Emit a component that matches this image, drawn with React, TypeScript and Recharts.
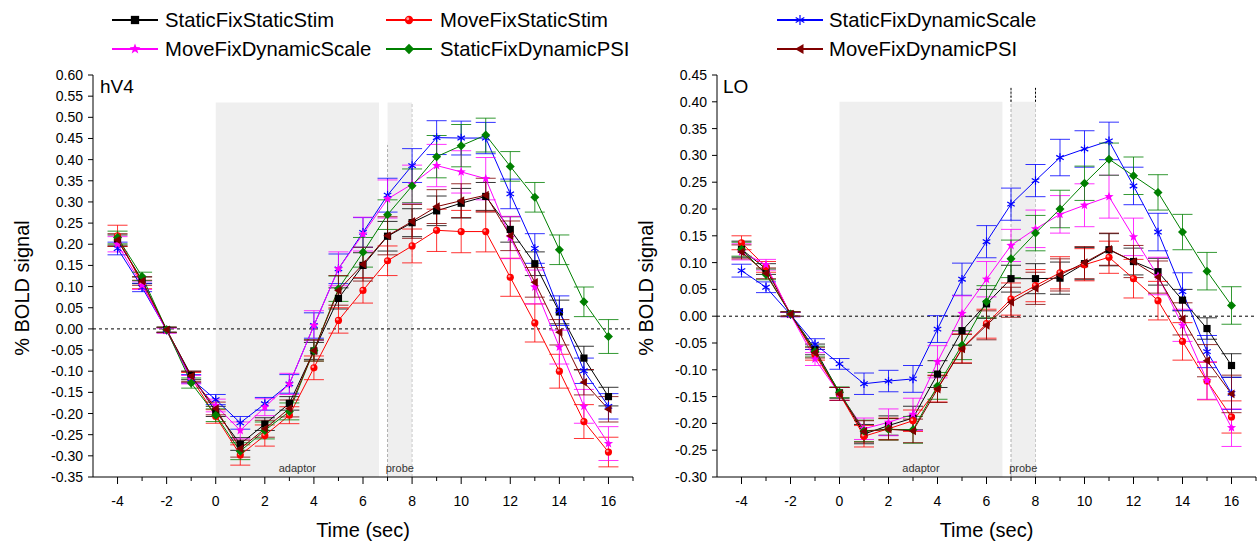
import {
  ErrorBar,
  Line,
  LineChart,
  ReferenceArea,
  ReferenceLine,
  XAxis,
  YAxis,
} from "recharts";

const FONT = '"Liberation Sans", Arial, sans-serif';

const times = [-4, -3, -2, -1, 0, 1, 2, 3, 4, 5, 6, 7, 8, 9, 10, 11, 12, 13, 14, 15, 16];
const xTicks = [-4, -3, -2, -1, 0, 1, 2, 3, 4, 5, 6, 7, 8, 9, 10, 11, 12, 13, 14, 15, 16, 17];
const hv4Ticks = [0.6, 0.55, 0.5, 0.45, 0.4, 0.35, 0.3, 0.25, 0.2, 0.15, 0.1, 0.05, 0, -0.05, -0.1, -0.15, -0.2, -0.25, -0.3, -0.35];
const loTicks = [0.45, 0.4, 0.35, 0.3, 0.25, 0.2, 0.15, 0.1, 0.05, 0, -0.05, -0.1, -0.15, -0.2, -0.25, -0.3];

const seriesNames = [
  "StaticFixStaticStim",
  "MoveFixStaticStim",
  "StaticFixDynamicScale",
  "MoveFixDynamicScale",
  "StaticFixDynamicPSI",
  "MoveFixDynamicPSI",
];
const seriesColors = ["#000000", "#ff0000", "#0000ff", "#ff00ff", "#008000", "#800000"];
const seriesMarkers = ["square", "circle", "asterisk", "star", "diamond", "lefttri"];

// hV4 means
const hv4StaticFixStaticStim = [0.21, 0.115, -0.002, -0.11, -0.195, -0.272, -0.225, -0.176, -0.052, 0.072, 0.15, 0.219, 0.251, 0.279, 0.297, 0.313, 0.235, 0.154, 0.04, -0.069, -0.16];
const hv4MoveFixStaticStim = [0.22, 0.105, -0.003, -0.115, -0.207, -0.298, -0.252, -0.204, -0.092, 0.02, 0.091, 0.161, 0.196, 0.233, 0.23, 0.23, 0.122, 0.014, -0.1, -0.219, -0.291];
const hv4StaticFixDynamicScale = [0.19, 0.098, -0.003, -0.118, -0.167, -0.222, -0.177, -0.13, 0.008, 0.142, 0.228, 0.316, 0.386, 0.452, 0.451, 0.451, 0.319, 0.19, 0.043, -0.099, -0.183];
const hv4MoveFixDynamicScale = [0.2, 0.103, -0.004, -0.12, -0.181, -0.24, -0.185, -0.13, 0.008, 0.142, 0.224, 0.307, 0.342, 0.386, 0.371, 0.355, 0.216, 0.099, -0.043, -0.183, -0.271];
const hv4StaticFixDynamicPSI = [0.216, 0.124, -0.002, -0.128, -0.204, -0.289, -0.24, -0.195, -0.051, 0.095, 0.181, 0.27, 0.338, 0.407, 0.433, 0.458, 0.384, 0.311, 0.187, 0.064, -0.018];
const hv4MoveFixDynamicPSI = [0.21, 0.113, -0.002, -0.112, -0.188, -0.283, -0.236, -0.188, -0.051, 0.091, 0.153, 0.22, 0.254, 0.289, 0.303, 0.316, 0.22, 0.11, -0.008, -0.126, -0.19];

// hV4 error half-widths
const hv4ErrStaticFixStaticStim = [0.012, 0.008, 0.006, 0.01, 0.012, 0.015, 0.015, 0.016, 0.02, 0.025, 0.03, 0.035, 0.033, 0.035, 0.035, 0.033, 0.03, 0.028, 0.028, 0.028, 0.022];
const hv4ErrMoveFixStaticStim = [0.025, 0.01, 0.006, 0.012, 0.016, 0.024, 0.025, 0.02, 0.028, 0.03, 0.03, 0.035, 0.04, 0.05, 0.05, 0.048, 0.045, 0.045, 0.04, 0.04, 0.035];
const hv4ErrStaticFixDynamicScale = [0.015, 0.01, 0.006, 0.01, 0.012, 0.015, 0.015, 0.022, 0.03, 0.035, 0.035, 0.04, 0.04, 0.04, 0.04, 0.037, 0.035, 0.035, 0.035, 0.03, 0.03];
const hv4ErrMoveFixDynamicScale = [0.018, 0.01, 0.006, 0.01, 0.015, 0.02, 0.02, 0.025, 0.035, 0.04, 0.04, 0.045, 0.045, 0.05, 0.05, 0.05, 0.05, 0.04, 0.04, 0.04, 0.04];
const hv4ErrStaticFixDynamicPSI = [0.015, 0.01, 0.006, 0.012, 0.015, 0.02, 0.02, 0.02, 0.025, 0.03, 0.035, 0.035, 0.04, 0.05, 0.05, 0.04, 0.035, 0.035, 0.035, 0.035, 0.04];
const hv4ErrMoveFixDynamicPSI = [0.015, 0.01, 0.006, 0.012, 0.015, 0.02, 0.02, 0.02, 0.025, 0.035, 0.04, 0.045, 0.04, 0.04, 0.04, 0.04, 0.035, 0.035, 0.03, 0.03, 0.03];

// LO means
const loStaticFixStaticStim = [0.125, 0.088, 0.004, -0.062, -0.143, -0.22, -0.204, -0.19, -0.108, -0.027, 0.023, 0.07, 0.07, 0.071, 0.098, 0.124, 0.102, 0.083, 0.03, -0.023, -0.092];
const loMoveFixStaticStim = [0.137, 0.092, 0.004, -0.072, -0.145, -0.224, -0.21, -0.195, -0.135, -0.06, -0.014, 0.032, 0.057, 0.081, 0.096, 0.11, 0.07, 0.029, -0.047, -0.121, -0.188];
const loStaticFixDynamicScale = [0.085, 0.054, 0.003, -0.052, -0.089, -0.126, -0.121, -0.117, -0.024, 0.069, 0.139, 0.209, 0.253, 0.296, 0.312, 0.327, 0.243, 0.157, 0.046, -0.066, -0.144];
const loMoveFixDynamicScale = [0.12, 0.096, 0.003, -0.08, -0.145, -0.21, -0.198, -0.183, -0.085, 0.005, 0.069, 0.132, 0.163, 0.19, 0.207, 0.223, 0.148, 0.075, -0.017, -0.12, -0.208];
const loStaticFixDynamicPSI = [0.125, 0.078, 0.004, -0.066, -0.142, -0.214, -0.211, -0.212, -0.13, -0.054, 0.027, 0.107, 0.155, 0.2, 0.248, 0.293, 0.262, 0.231, 0.157, 0.084, 0.02];
const loMoveFixDynamicPSI = [0.12, 0.08, 0.004, -0.068, -0.145, -0.215, -0.211, -0.214, -0.136, -0.061, -0.017, 0.026, 0.052, 0.077, 0.1, 0.125, 0.102, 0.073, -0.005, -0.083, -0.145];

// LO error half-widths
const loErrStaticFixStaticStim = [0.015, 0.01, 0.004, 0.01, 0.01, 0.018, 0.018, 0.022, 0.025, 0.027, 0.027, 0.025, 0.028, 0.03, 0.03, 0.03, 0.025, 0.025, 0.02, 0.02, 0.022];
const loErrMoveFixStaticStim = [0.013, 0.01, 0.004, 0.01, 0.012, 0.02, 0.02, 0.02, 0.025, 0.027, 0.027, 0.03, 0.03, 0.03, 0.03, 0.03, 0.036, 0.036, 0.035, 0.035, 0.03];
const loErrStaticFixDynamicScale = [0.012, 0.01, 0.004, 0.01, 0.01, 0.02, 0.02, 0.025, 0.025, 0.03, 0.03, 0.03, 0.03, 0.034, 0.034, 0.035, 0.035, 0.035, 0.035, 0.03, 0.03];
const loErrMoveFixDynamicScale = [0.015, 0.01, 0.004, 0.012, 0.012, 0.02, 0.025, 0.03, 0.03, 0.033, 0.033, 0.03, 0.035, 0.035, 0.04, 0.04, 0.035, 0.035, 0.03, 0.035, 0.035];
const loErrStaticFixDynamicPSI = [0.013, 0.01, 0.004, 0.01, 0.01, 0.02, 0.02, 0.025, 0.025, 0.027, 0.03, 0.035, 0.033, 0.035, 0.032, 0.03, 0.035, 0.033, 0.033, 0.035, 0.035];
const loErrMoveFixDynamicPSI = [0.013, 0.01, 0.004, 0.01, 0.012, 0.02, 0.02, 0.022, 0.025, 0.027, 0.027, 0.028, 0.03, 0.03, 0.03, 0.03, 0.03, 0.03, 0.03, 0.03, 0.035];

function buildRows(values: number[][], errors: number[][]) {
  return times.map((t, i) => {
    const row: Record<string, number> = { t };
    values.forEach((v, s) => {
      row[`s${s}`] = v[i];
      row[`e${s}`] = errors[s][i];
    });
    return row;
  });
}

const hv4Rows = buildRows(
  [hv4StaticFixStaticStim, hv4MoveFixStaticStim, hv4StaticFixDynamicScale, hv4MoveFixDynamicScale, hv4StaticFixDynamicPSI, hv4MoveFixDynamicPSI],
  [hv4ErrStaticFixStaticStim, hv4ErrMoveFixStaticStim, hv4ErrStaticFixDynamicScale, hv4ErrMoveFixDynamicScale, hv4ErrStaticFixDynamicPSI, hv4ErrMoveFixDynamicPSI],
);
const loRows = buildRows(
  [loStaticFixStaticStim, loMoveFixStaticStim, loStaticFixDynamicScale, loMoveFixDynamicScale, loStaticFixDynamicPSI, loMoveFixDynamicPSI],
  [loErrStaticFixStaticStim, loErrMoveFixStaticStim, loErrStaticFixDynamicScale, loErrMoveFixDynamicScale, loErrStaticFixDynamicPSI, loErrMoveFixDynamicPSI],
);

function Marker({ kind, cx, cy, color, size = 1 }: { kind: string; cx: number; cy: number; color: string; size?: number }) {
  if (cx == null || cy == null) return null;
  const r = 3.6 * size;
  switch (kind) {
    case "square":
      return <rect x={cx - r} y={cy - r} width={2 * r} height={2 * r} fill={color} />;
    case "circle":
      return (
        <g>
          <circle cx={cx} cy={cy} r={r} fill={color} />
          <circle cx={cx - r * 0.3} cy={cy - r * 0.3} r={r * 0.35} fill="#ff9999" />
        </g>
      );
    case "asterisk": {
      const a = r * 1.2;
      const dx = a * 0.866;
      const dy = a * 0.5;
      return (
        <g stroke={color} strokeWidth={1.2}>
          <line x1={cx} y1={cy - a} x2={cx} y2={cy + a} />
          <line x1={cx - dx} y1={cy - dy} x2={cx + dx} y2={cy + dy} />
          <line x1={cx - dx} y1={cy + dy} x2={cx + dx} y2={cy - dy} />
        </g>
      );
    }
    case "star": {
      const outer = r * 1.35;
      const inner = outer * 0.42;
      const pts: string[] = [];
      for (let k = 0; k < 10; k++) {
        const rad = k % 2 === 0 ? outer : inner;
        const ang = -Math.PI / 2 + (k * Math.PI) / 5;
        pts.push(`${cx + rad * Math.cos(ang)},${cy + rad * Math.sin(ang)}`);
      }
      return <polygon points={pts.join(" ")} fill={color} />;
    }
    case "diamond": {
      const d = r * 1.25;
      return <polygon points={`${cx},${cy - d} ${cx + d},${cy} ${cx},${cy + d} ${cx - d},${cy}`} fill={color} />;
    }
    case "lefttri": {
      const d = r * 1.2;
      return <polygon points={`${cx - d},${cy} ${cx + d * 0.7},${cy - d} ${cx + d * 0.7},${cy + d}`} fill={color} />;
    }
    default:
      return null;
  }
}

function XTick(props: any) {
  const { x, y, payload } = props;
  const v = payload.value as number;
  const major = v % 2 === 0 && v <= 16;
  return (
    <g>
      <line x1={x} x2={x} y1={y} y2={y + (major ? 7 : 4)} stroke="#000" strokeWidth={1} />
      {major && (
        <text x={x} y={y + 29} textAnchor="middle" fontSize={14} fontFamily={FONT} fill="#000">
          {v}
        </text>
      )}
    </g>
  );
}

function YTick(props: any) {
  const { x, y, payload } = props;
  const v = payload.value as number;
  return (
    <g>
      <line x1={x - 5} x2={x} y1={y} y2={y} stroke="#000" strokeWidth={1} />
      <text x={x - 10} y={y + 5} textAnchor="end" fontSize={14} fontFamily={FONT} fill="#000">
        {v.toFixed(2)}
      </text>
    </g>
  );
}

interface PanelProps {
  rows: Record<string, number>[];
  yTicks: number[];
  yDomain: [number, number];
  shadeTop: number;
  probeLineTop: number;
  dottedTop: boolean;
  width: number;
  marginLeft: number;
  marginRight: number;
}

function Panel({ rows, yTicks, yDomain, shadeTop, probeLineTop, dottedTop, width, marginLeft, marginRight }: PanelProps) {
  const labelStyle = { fontSize: 11, fill: "#333", fontFamily: FONT };
  return (
    <LineChart
      width={width}
      height={543}
      data={rows}
      margin={{ top: 75, right: marginRight, bottom: 36, left: marginLeft }}
    >
      <ReferenceArea
        x1={0}
        x2={6.65}
        y1={yDomain[0]}
        y2={shadeTop}
        fill="#efefef"
        fillOpacity={1}
        stroke="none"
        label={{ value: "adaptor", position: "insideBottom", offset: 5, ...labelStyle }}
      />
      <ReferenceArea
        x1={7}
        x2={8}
        y1={yDomain[0]}
        y2={shadeTop}
        fill="#efefef"
        fillOpacity={1}
        stroke="none"
        label={{ value: "probe", position: "insideBottom", offset: 5, ...labelStyle }}
      />
      <ReferenceLine
        segment={[{ x: 7, y: yDomain[0] }, { x: 7, y: probeLineTop }]}
        stroke="#b0b0b0"
        strokeDasharray="3 2"
      />
      <ReferenceLine
        segment={[{ x: 8, y: yDomain[0] }, { x: 8, y: dottedTop ? probeLineTop : shadeTop }]}
        stroke="#c8c8c8"
        strokeDasharray="3 2"
      />
      {dottedTop && (
        <ReferenceLine segment={[{ x: 7, y: shadeTop }, { x: 7, y: probeLineTop }]} stroke="#000" strokeDasharray="2 2" />
      )}
      {dottedTop && (
        <ReferenceLine segment={[{ x: 8, y: shadeTop }, { x: 8, y: probeLineTop }]} stroke="#000" strokeDasharray="2 2" />
      )}
      <ReferenceLine y={0} stroke="#000" strokeDasharray="3 3" strokeWidth={1} />
      <XAxis
        type="number"
        dataKey="t"
        domain={[-5, 17]}
        ticks={xTicks}
        interval={0}
        tickSize={0}
        tickMargin={0}
        tickLine={false}
        tick={XTick}
        axisLine={{ stroke: "#000", strokeWidth: 1 }}
        height={30}
        allowDataOverflow
      />
      <YAxis
        type="number"
        domain={yDomain}
        ticks={yTicks}
        interval={0}
        tickSize={0}
        tickMargin={0}
        tickLine={false}
        tick={YTick}
        axisLine={{ stroke: "#000", strokeWidth: 1 }}
        width={60}
        allowDataOverflow
      />
      {seriesNames.map((name, s) => (
        <Line
          key={name}
          name={name}
          type="linear"
          dataKey={`s${s}`}
          stroke={seriesColors[s]}
          strokeWidth={1}
          isAnimationActive={false}
          activeDot={false}
          dot={(p: any) => (
            <Marker key={`${name}-${p.index}`} kind={seriesMarkers[s]} cx={p.cx} cy={p.cy} color={seriesColors[s]} />
          )}
        >
          <ErrorBar
            dataKey={`e${s}`}
            width={10}
            stroke={seriesColors[s]}
            strokeWidth={1}
            strokeOpacity={0.8}
            direction="y"
            isAnimationActive={false}
          />
        </Line>
      ))}
    </LineChart>
  );
}

const legendCols = [
  { line: 112, text: 165 },
  { line: 386, text: 440 },
  { line: 777, text: 829 },
];
const legendRows = [20, 49];

function LegendBlock() {
  return (
    <>
      {seriesNames.map((name, s) => {
        const col = legendCols[s % 3];
        const rowY = legendRows[Math.floor(s / 3)];
        return (
          <div key={name}>
            <svg
              width={48}
              height={20}
              style={{ position: "absolute", left: col.line, top: rowY - 10 }}
            >
              <line x1={0} x2={46} y1={10} y2={10} stroke={seriesColors[s]} strokeWidth={2} />
              <Marker kind={seriesMarkers[s]} cx={23} cy={10} color={seriesColors[s]} size={1.15} />
            </svg>
            <div
              style={{
                position: "absolute",
                left: col.text,
                top: rowY - 12,
                fontSize: 20.3,
                lineHeight: "24px",
                fontFamily: FONT,
                color: "#000",
                whiteSpace: "nowrap",
              }}
            >
              {name}
            </div>
          </div>
        );
      })}
    </>
  );
}

function AxisTitles({ plotLeft, plotRight, yTitleX, tag, tagX }: { plotLeft: number; plotRight: number; yTitleX: number; tag: string; tagX: number }) {
  const common = { position: "absolute" as const, fontFamily: FONT, color: "#000", whiteSpace: "nowrap" as const };
  return (
    <>
      <div
        style={{
          ...common,
          left: yTitleX - 100,
          top: 288 - 12,
          width: 200,
          height: 24,
          lineHeight: "24px",
          textAlign: "center",
          fontSize: 20,
          transform: "rotate(-90deg)",
        }}
      >
        % BOLD signal
      </div>
      <div
        style={{
          ...common,
          left: (plotLeft + plotRight) / 2 - 100,
          top: 518,
          width: 200,
          lineHeight: "24px",
          textAlign: "center",
          fontSize: 20,
        }}
      >
        Time (sec)
      </div>
      <div style={{ ...common, left: tagX, top: 75, fontSize: 19, lineHeight: "24px" }}>{tag}</div>
    </>
  );
}

export default function App() {
  return (
    <div
      style={{
        position: "absolute",
        left: 0,
        top: 0,
        width: 1257,
        height: 543,
        background: "#fff",
        overflow: "hidden",
      }}
    >
      <div style={{ position: "absolute", left: 0, top: 0 }}>
        <Panel
          rows={hv4Rows}
          yTicks={hv4Ticks}
          yDomain={[-0.35, 0.6]}
          shadeTop={0.535}
          probeLineTop={0.435}
          dottedTop={false}
          width={645}
          marginLeft={33}
          marginRight={12}
        />
      </div>
      <div style={{ position: "absolute", left: 645, top: 0 }}>
        <Panel
          rows={loRows}
          yTicks={loTicks}
          yDomain={[-0.3, 0.45]}
          shadeTop={0.4}
          probeLineTop={0.426}
          dottedTop={true}
          width={612}
          marginLeft={12}
          marginRight={1}
        />
      </div>
      <AxisTitles plotLeft={93} plotRight={633} yTitleX={22} tag="hV4" tagX={100} />
      <AxisTitles plotLeft={717} plotRight={1256} yTitleX={646} tag="LO" tagX={723} />
      <LegendBlock />
    </div>
  );
}
